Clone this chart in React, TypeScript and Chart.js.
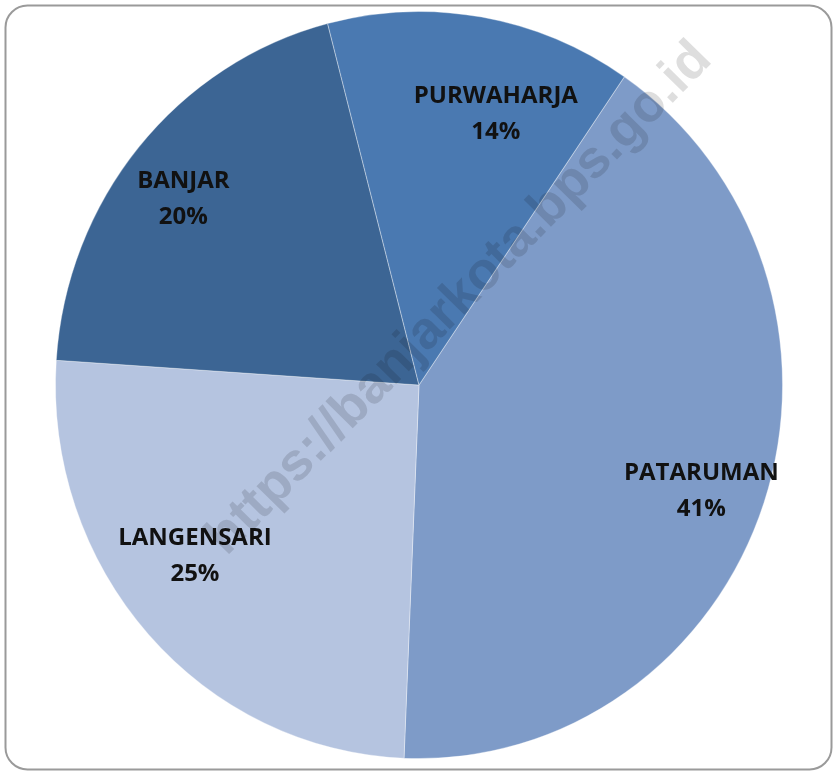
import React, { useEffect, useRef } from "react";
import { Chart, registerables } from "chart.js";

Chart.register(...registerables);

const categories = ["PATARUMAN", "LANGENSARI", "BANJAR", "PURWAHARJA"];
const shares = [41.1, 25.4, 19.9, 13.6];
const percentLabels = ["41%", "25%", "20%", "14%"];
const sliceColors = ["#7E9BC8", "#B5C4E0", "#3C6594", "#4A79B1"];
const watermarkText = "https://banjarkota.bps.go.id";

// label placement relative to each slice: fraction of radius, angle offset (deg) from mid-angle
const labelPlacement = [
  { r: 0.819, da: 2.3 },
  { r: 0.766, da: 4.46 },
  { r: 0.814, da: -1.38 },
  { r: 0.763, da: 5.94 },
];

// slight elliptical stretch of the pie as in the source image
const stretchX = 364 / 369;
const stretchY = 374 / 369;

const framePlugin = {
  id: "frame",
  beforeDraw(chart: any) {
    const ctx = chart.ctx;
    ctx.save();
    ctx.fillStyle = "#ffffff";
    ctx.fillRect(0, 0, chart.width, chart.height);
    ctx.beginPath();
    ctx.roundRect(5.5, 5.5, chart.width - 10, chart.height - 9, 22);
    ctx.strokeStyle = "#9a9a9a";
    ctx.lineWidth = 2;
    ctx.stroke();
    ctx.restore();
  },
};

const stretchPlugin = {
  id: "stretch",
  beforeDatasetsDraw(chart: any) {
    const ctx = chart.ctx;
    const a = chart.chartArea;
    const cx = (a.left + a.right) / 2;
    const cy = (a.top + a.bottom) / 2;
    ctx.save();
    ctx.translate(cx, cy);
    ctx.scale(stretchX, stretchY);
    ctx.translate(-cx, -cy);
  },
  afterDatasetsDraw(chart: any) {
    chart.ctx.restore();
  },
};

const watermarkPlugin = {
  id: "watermark",
  afterDraw(chart: any) {
    const ctx = chart.ctx;
    const area = chart.chartArea;
    const cx = (area.left + area.right) / 2;
    const cy = (area.top + area.bottom) / 2;
    ctx.save();
    ctx.globalCompositeOperation = "multiply";
    ctx.translate(cx + 51, cy - 76);
    ctx.rotate((-45.5 * Math.PI) / 180);
    ctx.font = "bold 53px 'Liberation Sans', Arial, sans-serif";
    ctx.fillStyle = "#dedede";
    ctx.textAlign = "center";
    ctx.textBaseline = "alphabetic";
    ctx.fillText(watermarkText, 0, 0);
    ctx.restore();
  },
};

const labelPlugin = {
  id: "sliceLabels",
  afterDraw(chart: any) {
    const ctx = chart.ctx;
    const meta = chart.getDatasetMeta(0);
    ctx.save();
    ctx.font = "bold 24px 'Open Sans', sans-serif";
    ctx.fillStyle = "#111111";
    ctx.textAlign = "center";
    ctx.textBaseline = "alphabetic";
    meta.data.forEach((arc: any, i: number) => {
      const p = arc.getProps(["x", "y", "startAngle", "endAngle", "outerRadius"], true);
      const pl = labelPlacement[i];
      const mid = (p.startAngle + p.endAngle) / 2 + (pl.da * Math.PI) / 180;
      const x = p.x + Math.cos(mid) * p.outerRadius * pl.r;
      const y = p.y - 2 + Math.sin(mid) * p.outerRadius * pl.r;
      ctx.fillText(categories[i], x, y - 9.7);
      ctx.fillText(percentLabels[i], x, y + 26.8);
    });
    ctx.restore();
  },
};

export default function App() {
  const ref = useRef<HTMLCanvasElement | null>(null);
  useEffect(() => {
    document.body.style.margin = "0";
    const canvas = ref.current;
    if (!canvas) return;
    const chart = new Chart(canvas, {
      type: "pie",
      data: {
        labels: categories,
        datasets: [
          {
            data: shares,
            backgroundColor: sliceColors,
            borderColor: "rgba(255,255,255,0.35)",
            borderWidth: 1,
          },
        ],
      },
      options: {
        responsive: false,
        animation: false,
        rotation: 34.4,
        layout: { padding: { top: 16, bottom: 19, left: 2, right: 0 } },
        plugins: {
          legend: { display: false },
          tooltip: { enabled: false },
          title: { display: false },
        },
      },
      plugins: [framePlugin, stretchPlugin, watermarkPlugin, labelPlugin],
    });
    return () => chart.destroy();
  }, []);
  return (
    <div style={{ width: 836, height: 773 }}>
      <canvas ref={ref} width={836} height={773} style={{ display: "block" }} />
    </div>
  );
}
